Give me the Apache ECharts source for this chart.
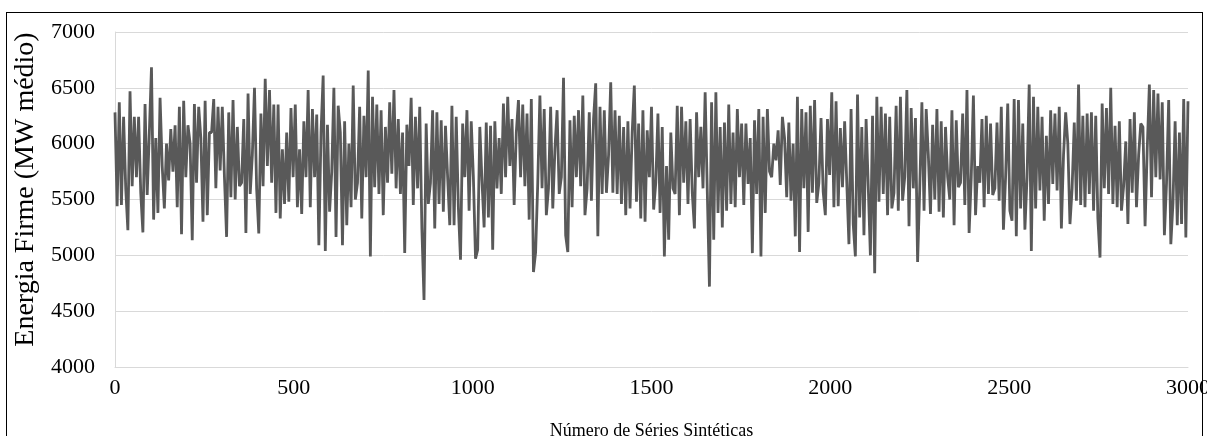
<!DOCTYPE html>
<html><head><meta charset="utf-8">
<script src="https://cdn.jsdelivr.net/npm/echarts@6/dist/echarts.min.js"></script>
<style>
html,body{margin:0;padding:0;background:#fff;}
#wrap{position:relative;width:1207px;height:436px;overflow:hidden;background:#fff;}
#frame{position:absolute;left:6px;top:12px;width:1197px;height:440px;border:1px solid #000;box-sizing:border-box;pointer-events:none;z-index:2;}
#chart{position:absolute;left:0;top:0;width:1207px;height:436px;}
</style></head>
<body><div id="wrap"><div id="chart"></div><div id="frame"></div></div>
<script>
// Sample step (series number) between the values
const sampleStep = 6;
const xTicks = [0, 500, 1000, 1500, 2000, 2500, 3000];
const yTicks = [4000, 4500, 5000, 5500, 6000, 6500, 7000];
const yTitle = 'Energia Firme (MW médio)';
const xTitle = 'Número de Séries Sintéticas';

// Energia Firme (MW médio), one value every 6 series
const energia0 = [6280,5440,6370,5450,6240,5600,5225,6470,5620,6240,
5700,6240,5560,5205,6355,5540,6100,6685,5320,6050,
5380,6410,5800,5420,6000,5670,6130,5750,6165,5430,
6330,5190,6385,5700,6165,6000,5135,6355,5650,6330,
6050,5300,6385,5360,6100];
const energia1 = [6100,6400,5600,6330,5760,6330,5700,5165,6280,5520,
6390,5500,6150,5620,5650,6220,5200,6450,5550,5900,
6500,5600,5195,6270,5620,6580,5800,6480,5650,6350,
5380,6350,5330,5950,5460,6100,5480,6320,5700,6350,
5430,5950,5370,6200,5700,6480];
const energia2 = [5430,6310,5700,6260,5090,6100,6610,5040,6170,5390,
5750,6500,5165,6340,6100,5090,6200,5270,6000,5430,
6520,5500,5650,6330,5330,6250,5700,6655,4990,6420,
5610,6350,5550,6300,5360,6150,5650,6370,5730,6480,
5600,6220,5550,6100,5020,6170];
const energia3 = [5800,6410,5450,6240,5600,6330,5240,4600,6180,5460,
5650,6300,5240,6280,5460,6210,5390,6160,5700,5270,
6340,5270,6240,5430,4960,6180,5700,6300,5400,6200,
5700,4970,5050,6150,5670,5250,6190,5340,6160,5050,
6200,5600,6050,5550,6360,5700,6420];
const energia4 = [5800,6220,5450,6100,6390,5700,6350,5620,6270,5320,
6400,4850,5030,5650,6430,5600,6310,5360,5600,6330,
5420,5950,6300,5550,5700,6590,5180,5030,6210,5430,
6250,5700,6300,5620,6430,5360,5600,6280,5490,6220,
6540,5170,6330,5550,6300,5560,5900];
const energia5 = [6550,5560,6300,5550,6250,5460,6150,5360,6200,5420,
6100,6520,5480,6180,5330,6300,5300,6120,5700,6330,
5410,5650,6270,5380,6150,4990,5800,5140,6100,5600,
5550,6340,5360,6330,5650,6200,5460,6220,5560,5240,
6280,5700,6150,5600,6460,5570,4720];
const energia6 = [6370,5140,6460,5380,6150,5250,6190,5400,6350,5460,
6100,5430,6310,5700,6180,5450,6180,5640,6050,5020,
6210,5550,6310,4990,6240,5380,6310,5750,5700,6000,
5850,6120,5630,6240,6050,5520,6190,5490,6000,5170,
6420,5030,6310,5600,6280,5210];
const energia7 = [6340,5560,6390,5470,5650,6230,5570,5360,6220,5720,
6460,5430,6380,5440,6140,5610,6200,5650,5100,6310,
5280,4990,6440,5340,6150,5180,6220,5620,5000,6250,
4840,6420,5480,6330,5550,6270,5360,6240,5420,5560,
6340,5400,6420,5490,5700,6480,5260];
const energia8 = [6320,5600,6230,4940,5600,6370,5400,6310,5900,5370,
6170,5500,6310,5390,6200,5340,6150,5700,5500,6300,
5270,6210,5610,5650,6270,5450,6480,5200,5700,6430,
5360,5800,5650,6220,5430,6250,5550,6180,5540,5600,
6190,5490,6330,5230,5700,6360,5400];
const energia9 = [5310,6400,5170,6390,5420,6180,5230,5700,6530,5040,
6420,5420,6330,5580,6240,5310,6070,5460,6300,5640,
6270,5580,6330,5240,5900,6280,6000,5280,5600,6190,
5490,6530,5450,6250,5430,6270,5550,6280,5400,6250,
5330,4980,6360,5600,6320,5550];
const energia10 = [6500,5460,6160,5430,6200,5400,5620,6020,5280,6220,
5560,6280,5430,5900,6180,6150,5260,5950,6530,5520,
6480,5700,6450,5680,6370,5180,5650,6390,5100,5470,
6200,5270,6100,5280,6400,5160,6380];

const energia = [].concat(energia0, energia1, energia2, energia3, energia4,
  energia5, energia6, energia7, energia8, energia9, energia10);
const serieNumero = energia.map((_, i) => i * sampleStep);

const fontFam = "'Liberation Serif','Times New Roman',serif";
const plain = v => String(v);
const chart = echarts.init(document.getElementById('chart'), null, {renderer: 'canvas'});
chart.setOption({
  animation: false,
  backgroundColor: '#fff',
  grid: {left: 115, right: 19, top: 32, bottom: 69, containLabel: false, outerBoundsMode: 'none'},
  xAxis: {
    type: 'value', min: xTicks[0], max: xTicks[xTicks.length - 1], interval: 500,
    name: xTitle, nameLocation: 'middle', nameGap: 55,
    nameTextStyle: {fontFamily: fontFam, fontSize: 18, color: '#000'},
    axisLine: {show: true, lineStyle: {color: '#d9d9d9', width: 1}},
    axisTick: {show: false},
    splitLine: {show: false},
    axisLabel: {fontFamily: fontFam, fontSize: 22, color: '#000', margin: 10, formatter: plain}
  },
  yAxis: {
    type: 'value', min: yTicks[0], max: yTicks[yTicks.length - 1], interval: 500,
    name: yTitle, nameLocation: 'middle', nameGap: 68, nameRotate: 90,
    nameTextStyle: {fontFamily: fontFam, fontSize: 28, color: '#000', padding: [0, 0, 0, 20]},
    axisLine: {show: true, lineStyle: {color: '#d9d9d9', width: 1}},
    axisTick: {show: false},
    splitLine: {show: true, lineStyle: {color: '#d9d9d9', width: 1}},
    axisLabel: {fontFamily: fontFam, fontSize: 22, color: '#000', margin: 20, formatter: plain}
  },
  series: [{
    type: 'line',
    data: serieNumero.map((x, i) => [x, energia[i]]),
    showSymbol: false,
    sampling: null,
    lineStyle: {color: '#595959', width: 2.8},
    emphasis: {disabled: true}
  }]
});
</script></body></html>
